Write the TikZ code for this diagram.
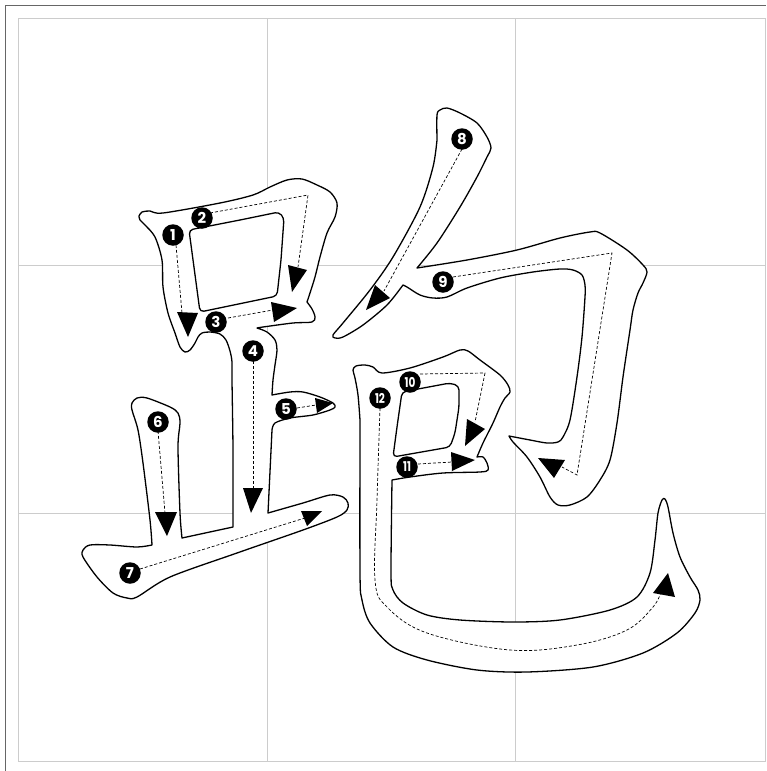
\documentclass[tikz,border=0pt]{standalone}
\usepackage{fontspec}
\newfontfamily\numfont{Poppins}
\begin{document}
\begin{tikzpicture}[x=1pt,y=-1pt,
  outline/.style={draw=black, line width=1.3pt, line join=round, fill=white},
  guide/.style={line width=0.7pt, dash pattern=on 3pt off 2pt},
  tri/.style={fill=black},
  num/.style={circle, fill=black, text=white, inner sep=0pt, minimum size=21.5pt, font=\numfont\bfseries\fontsize{15}{15}\selectfont},
  numtwo/.style={num, font=\numfont\bfseries\fontsize{13.5}{13.5}\selectfont},
  gridline/.style={draw=black!20, line width=0.8pt},
  sm/.style={smooth, tension=0.5}]
\useasboundingbox (0,0) rectangle (766,771);
\fill[white] (0,0) rectangle (766,771);
% frame and grid
\draw[draw=black!60, line width=1.2pt] (5.5,771) -- (5.5,5.5) -- (766,5.5);
\draw[gridline] (18,18) rectangle (765,761);
\draw[gridline] (267,18) -- (267,761);
\draw[gridline] (515,18) -- (515,761);
\draw[gridline] (18,265) -- (765,265);
\draw[gridline] (18,513) -- (765,513);

% component A (strokes 1-7)
\draw[outline]
  plot[sm] coordinates {(139,216) (142,212) (150,211) (163,213) (220,203) (253,195) (270,187) (287,180) (302,179) (317,185) (330,192) (337,203) (335,217) (327,233) (320,257) (315,277) (310,293) (307,302)}
  -- plot[sm] coordinates {(307,302) (312,309) (315,317) (312,322) (293,323) (263,327) (257,328)}
  -- plot[sm] coordinates {(257,328) (267,332) (275,340) (277,350) (275,365) (273,380) (272,395)}
  -- plot[sm] coordinates {(272,395) (290,392) (303,392) (320,397) (333,403) (335,407) (330,410) (313,415) (290,418) (275,423) (272,430)}
  -- (268,513)
  -- plot[sm] coordinates {(268,513) (303,503) (330,495) (343,497) (348,503) (347,510) (337,517) (303,530) (237,553) (170,577) (137,597) (127,598) (113,593) (97,577) (83,557) (83,550) (90,545) (110,545) (137,547) (152,545)}
  -- plot[sm] coordinates {(152,545) (150,520) (143,463) (138,430) (132,410) (132,403) (137,398) (147,398) (170,407) (178,413) (180,423) (178,447) (180,513) (182,538)}
  -- (233,527)
  -- plot[sm] coordinates {(233,527) (233,450) (232,380) (232,362) (230,351) (226,340) (220,334) (210,332) (202,333) (198,337) (195,343) (190,350) (185,352) (180,347) (175,333) (168,313) (163,287) (162,260) (155,237) (145,225) (140,220) (139,216)}
  -- cycle;
\draw[outline, rounded corners=4pt] (189,230) -- (240,220) -- (279,212) -- (284,218) -- (281,260) -- (277,296) -- (200,312) -- cycle;

% component B (strokes 8-9)
\draw[outline]
  plot[sm] coordinates {(437,140) (437,115) (440,110) (447,108) (460,113) (477,123) (487,137) (491,148) (487,157) (477,177) (460,207) (437,243) (417,268)}
  -- plot[sm] coordinates {(417,268) (467,260) (517,250) (560,238) (590,232) (600,233) (627,250) (643,265) (647,272) (643,283) (638,293) (633,310) (630,330) (623,377) (617,423) (610,460) (600,480) (587,497) (570,505) (558,505) (550,497) (540,477) (527,457) (513,442) (509,436)}
  -- plot[sm] coordinates {(509,436) (530,440) (547,443) (558,442) (563,437) (570,420) (577,377) (582,337) (585,297) (585,285) (582,275) (573,270) (560,269) (533,272) (500,278) (467,288) (447,297) (433,298) (420,295) (407,287) (403,285)}
  -- plot[sm] coordinates {(403,285) (387,305) (363,325) (343,337) (335,338) (333,335) (343,323) (370,290) (393,257) (420,207) (433,167) (437,140)}
  -- cycle;

% component C (strokes 10-12)
\draw[outline]
  plot[sm] coordinates {(360,420) (358,395) (355,378) (353,370) (356,366) (365,365) (373,367) (382,373) (410,368) (443,357) (460,350) (468,351) (480,360) (500,375) (508,385) (510,392) (505,398) (500,407) (493,423) (483,443) (477,457)}
  -- plot[sm] coordinates {(477,457) (483,457) (487,463) (488,470) (480,472) (443,473) (410,477) (392,480)}
  -- plot[sm] coordinates {(392,480) (391,573) (393,590) (403,603) (427,615) (460,620) (513,622) (560,620) (610,610) (637,597) (650,573) (655,540) (658,513) (662,500) (665,499) (668,507) (673,533) (680,557) (690,577) (698,590) (700,600) (695,613) (677,633) (643,653) (593,667) (527,672) (477,670) (427,660) (393,647) (370,623) (362,600) (360,573) (360,420)}
  -- cycle;
\draw[outline, rounded corners=4pt] (402,392) -- (450,383) -- (459,386) -- (459,407) -- (455,433) -- (450,447) -- (393,457) -- (397,427) -- cycle;

% guides
\draw[guide] (176,245) -- (182,313);
\draw[guide] (210,213) -- (308,195) -- (298,267);
\draw[guide] (228,318) -- (273,310);
\draw[guide] (253,361) -- (253,490);
\draw[guide] (297,408) -- (316,405);
\draw[guide] (158,431) -- (165,513);
\draw[guide] (140,569) -- (305,518);
\draw[guide] (462,149) -- (384,291);
\draw[guide] (453,277) -- (612,253) -- (577,475) -- (562,467);
\draw[guide] (420,374) -- (485,373) -- (475,422);
\draw[guide] (418,464) -- (452,462);
\draw[guide] plot[smooth, tension=0.6] coordinates {(380,408) (377,500) (375,580) (387,607) (427,633) (510,650) (577,645) (627,630) (653,607) (661,592)};

% arrow heads
\fill[tri] (177,312) -- (198,313) -- (188,337) -- cycle;
\fill[tri] (288,265) -- (307,270) -- (292,292) -- cycle;
\fill[tri] (271,302) -- (297,308) -- (274,322) -- cycle;
\fill[tri] (243,488) -- (263,488) -- (251,513) -- cycle;
\fill[tri] (315,398) -- (333,403) -- (317,413) -- cycle;
\fill[tri] (155,512) -- (177,512) -- (167,536) -- cycle;
\fill[tri] (301,511) -- (322,511) -- (307,526) -- cycle;
\fill[tri] (375,285) -- (390,298) -- (366,310) -- cycle;
\fill[tri] (538,458) -- (565,460) -- (554,478) -- cycle;
\fill[tri] (467,419) -- (485,429) -- (465,446) -- cycle;
\fill[tri] (451,452) -- (475,460) -- (452,471) -- cycle;
\fill[tri] (653,593) -- (668,573) -- (675,597) -- cycle;

% numbers
\node[num] (n1) at (173,235) {1};
\node[num] (n2) at (202,218) {2};
\node[num] (n3) at (216,322) {3};
\node[num] (n4) at (253,351) {4};
\node[num] (n5) at (286,409) {5};
\node[num] (n6) at (158,422) {6};
\node[num] (n7) at (130,573) {7};
\node[num] (n8) at (462,139) {8};
\node[num] (n9) at (443,282) {9};
\node[numtwo] (n10) at (410,382) {\scalebox{0.78}[1]{10}};
\node[numtwo] (n11) at (407,467) {\scalebox{0.78}[1]{11}};
\node[numtwo] (n12) at (380,398) {\scalebox{0.78}[1]{12}};
\end{tikzpicture}
\end{document}
